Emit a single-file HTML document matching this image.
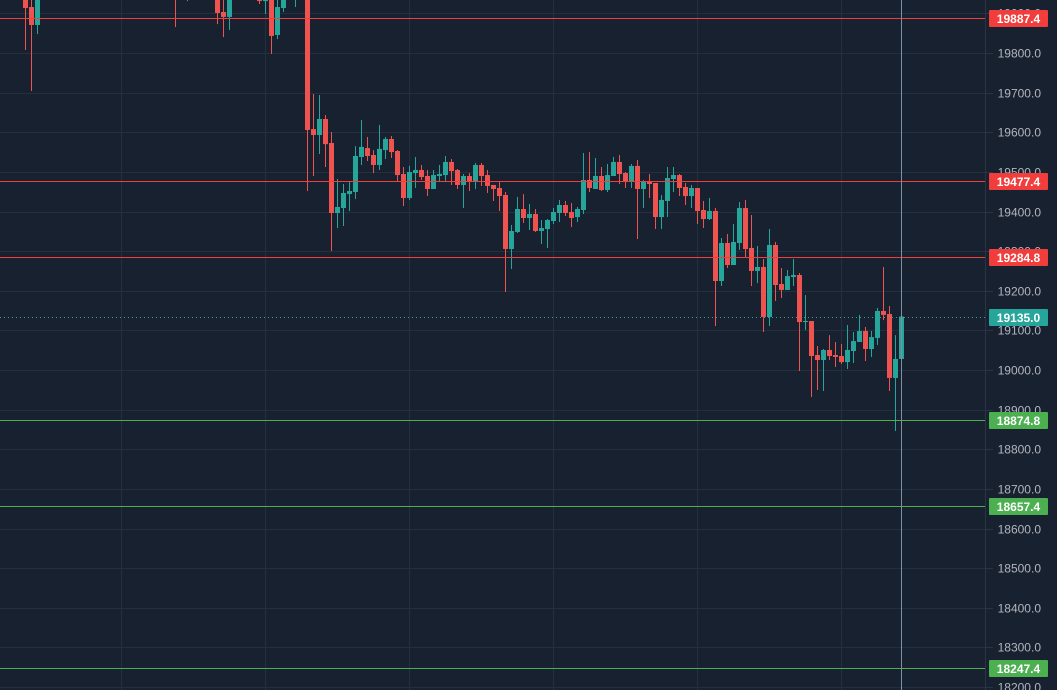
<!DOCTYPE html>
<html><head><meta charset="utf-8"><style>
html,body{margin:0;padding:0;background:#172130;}
svg{display:block;font-family:"Liberation Sans",sans-serif;}
</style></head><body>
<svg id="chart" width="1057" height="690" xmlns="http://www.w3.org/2000/svg">
<rect x="0" y="0" width="1057" height="690" fill="#172130"/>
<g id="grid"></g>
<g id="candles"></g>
<g id="levels"></g>
<line x1="985.5" y1="0" x2="985.5" y2="690" stroke="#2a3444" stroke-width="1"/>
<g id="axis"></g>
<g id="tags"></g>
</svg>
<script>
const slots=[4,5,6,29,31,36,37,38,43,44,45,46,47,49,51,52,53,54,55,56,57,58,59,60,61,62,63,64,65,66,67,68,69,70,71,72,73,74,75,76,77,78,79,80,81,82,83,84,85,86,87,88,89,90,91,92,93,94,95,96,97,98,99,100,101,102,103,104,105,106,107,108,109,110,111,112,113,114,115,116,117,118,119,120,121,122,123,124,125,126,127,128,129,130,131,132,133,134,135,136,137,138,139,140,141,142,143,144,145,146,147,148,149,150];
const opens=[19984,19916,19870.7,20000,19960,19990,19903.5,19891,19945,19931,19960,19845.4,19913.6,19950,19990,19608,19593,19633.5,19572.9,19396.2,19408.8,19444,19449.2,19537.5,19560,19542.6,19517.4,19555,19583,19552.7,19494.6,19434,19497,19504.7,19489.6,19456.8,19489.6,19492,19525,19504.7,19467,19489.6,19477,19517.4,19492,19467,19459.3,19441.6,19305.4,19348.3,19406.3,19383.6,19393.7,19350.8,19355.8,19376,19396.2,19416.4,19398.7,19386,19403.8,19479.5,19456.8,19489.6,19454.3,19489.6,19525,19497,19474.5,19515,19456.8,19477,19472,19386,19426.5,19482,19492,19462,19439,19459.3,19403.8,19381,19401.3,19224.6,19320.5,19265,19320.5,19408.8,19308,19250,19260,19133.8,19315.5,19217,19202,19234.7,19239.7,19121,19123.7,19037.8,19025.2,19050.5,19037.8,19035.3,19020,19048,19070.7,19098.4,19053,19081,19149,19141.3,18980,19027.8];
const highs=[19990,19946,19990,20020,20020,20010,19950,19980,19960,19970,19980,19935,19965,19990,20000,19696.5,19694,19643.5,19600.6,19482,19469.4,19474.5,19565,19631,19588,19555,19618.3,19588,19590.5,19555,19512.3,19515,19537.5,19517.4,19504.7,19504.7,19517.4,19540,19532.5,19507.3,19494.6,19497,19522.4,19522.4,19504.7,19467,19474.5,19449.2,19366,19436.6,19444,19419,19406.3,19378.6,19381,19408.8,19429,19426.5,19421.5,19411.4,19547.6,19550,19535,19512.3,19520,19537.5,19542.6,19499.7,19520,19530,19479.5,19494.6,19472,19441.6,19512.3,19512.3,19494.6,19472,19467,19459.3,19426.5,19434,19408.8,19333,19343.2,19368.5,19424,19429,19391.2,19313,19280,19355.8,19323,19257.4,19252.4,19280,19244.8,19189,19123.7,19060.6,19053,19088,19070.7,19065.6,19113.6,19096,19139,19108.5,19098.4,19156.5,19260,19161.5,19088,19135];
const lows=[19807.6,19704,19848,19865.6,19931,19873,19840,19858,19923.7,19898.4,19797.5,19835,19903.5,19916,19451.7,19489.6,19545,19512.3,19300.3,19358.4,19363.4,19401.3,19431.5,19517.4,19527.5,19497,19504.7,19532.5,19535,19477,19414,19429,19459.3,19479.5,19439,19456.8,19474.5,19474.5,19467,19456.8,19408.8,19451.7,19456.8,19464.4,19446.7,19426.5,19401.3,19197,19255,19345.7,19371,19353.3,19348.3,19318,19308,19368.5,19373.5,19388.6,19361,19373.5,19393.7,19449.2,19456.8,19451.7,19449.2,19489.6,19469.4,19459.3,19459.3,19330.6,19408.8,19434,19355.8,19355.8,19386,19449.2,19439,19416.4,19408.8,19368.5,19358.4,19378.6,19111,19212,19257.4,19265,19303,19285,19212,19219.6,19096,19111,19174,19181.7,19202,19212,18997.5,19101,18932,18949.5,18947,19025.2,19007.6,19015,19002.5,19017.7,19070.7,19022.7,19032.8,19063,19126,18947,18846,19025.2];
const closes=[19913.6,19870.7,19972,19950,20000,19901,19891,19960,19931,19950,19843,19916,19945,19980,19605.7,19593,19633.5,19570,19396.2,19411.4,19446.7,19451.7,19540,19563,19540,19517.4,19558,19583,19550,19492,19434,19499.7,19504.7,19487,19456.8,19492,19494.6,19525,19502,19467,19489.6,19477,19517.4,19489.6,19464.4,19456.8,19439,19305.4,19350.8,19406.3,19383.6,19393.7,19350.8,19358.4,19378.6,19398.7,19416.4,19396.2,19383.6,19406.3,19479.5,19459.3,19489.6,19454.3,19492,19525,19494.6,19474.5,19515,19456.8,19474.5,19469.4,19386,19429,19484.5,19492,19459.3,19439,19459.3,19401.3,19381,19401.3,19224.6,19320.5,19265,19323,19408.8,19305.4,19250,19260,19133.8,19315.5,19214.5,19202,19237,19239.7,19121,19123.7,19035.3,19025.2,19050.5,19035.3,19032.8,19020,19050.5,19073,19098.4,19053,19083,19149,19139,18980,19027.8,19135];
const tickValues=[19900,19800,19700,19600,19500,19400,19300,19200,19100,19000,18900,18800,18700,18600,18500,18400,18300,18200];
const levelPrices=[19887.4,19477.4,19284.8,18874.8,18657.4,18247.4];
const levelKinds=["red","red","red","green","green","green"];
const lastPrice=19135.0;
const crossSlot=150;

const NS="http://www.w3.org/2000/svg";
const y=p=>370-(p-19000)*0.39625;
const x=s=>1.5+6*s;
const UP="#26a69a",DOWN="#ef5350",RED="#f23d3d",GREEN="#4caf50";
function mk(tag,attrs,parent){const e=document.createElementNS(NS,tag);for(const k in attrs)e.setAttribute(k,attrs[k]);parent.appendChild(e);return e;}
const grid=document.getElementById('grid'),cg=document.getElementById('candles'),lv=document.getElementById('levels'),ax=document.getElementById('axis'),tg=document.getElementById('tags');
for(let gx=121;gx<985;gx+=144){const l=mk('line',{x1:gx+.5,y1:0,x2:gx+.5,y2:690,stroke:'#242f40','stroke-width':1},grid);

}
tickValues.forEach(v=>{const yy=Math.round(y(v))+.5;
const l=mk('line',{x1:0,y1:yy,x2:985,y2:yy,stroke:'#242f40','stroke-width':1},grid);


const t=mk('line',{x1:985,y1:yy,x2:993,y2:yy,stroke:'#2a3444','stroke-width':1},ax);


const tx=mk('text',{x:1041,y:yy+4,'text-anchor':'end','font-size':12,fill:'#b2b5be'},ax);tx.textContent=v.toFixed(1);

});
slots.forEach((s,i)=>{const o=opens[i],c=closes[i],h=highs[i],lo=lows[i];const col=c>=o?UP:DOWN;const cx=x(s);
const g=mk('g',{},cg);


mk('line',{x1:cx,y1:y(h),x2:cx,y2:y(lo),stroke:col,'stroke-width':1},g);
const top=y(Math.max(o,c)),bot=y(Math.min(o,c));
mk('rect',{x:cx-2.5,y:top,width:5,height:Math.max(1,bot-top),fill:col},g);});
levelPrices.forEach((p,i)=>{const col=levelKinds[i]==='red'?RED:GREEN;const yy=Math.round(y(p))+.5;
const l=mk('line',{x1:0,y1:yy,x2:986,y2:yy,stroke:col,'stroke-width':1},lv);


const r=mk('rect',{x:989,y:yy-8.5,width:59,height:17,fill:col,rx:1},tg);


const t=mk('text',{x:1018.5,y:yy+4.5,'text-anchor':'middle','font-size':12,'font-weight':'bold',fill:'#ffffff'},tg);t.textContent=p.toFixed(1);

});
const ly=Math.round(y(lastPrice))+.5;
const ll=mk('line',{x1:0,y1:ly,x2:986,y2:ly,stroke:UP,'stroke-width':1,'stroke-dasharray':'1 3'},lv);


const lr=mk('rect',{x:989,y:ly-8.5,width:59,height:17,fill:UP,rx:1},tg);


const lt=mk('text',{x:1018.5,y:ly+4.5,'text-anchor':'middle','font-size':12,'font-weight':'bold',fill:'#ffffff'},tg);lt.textContent=lastPrice.toFixed(1);


const ch=mk('line',{x1:x(crossSlot),y1:0,x2:x(crossSlot),y2:690,stroke:'#7e8fa8','stroke-width':1},lv);


</script>
</body></html>
